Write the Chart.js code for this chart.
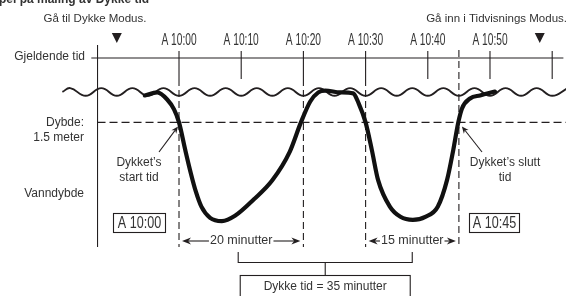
<!DOCTYPE html>
<html lang="no">
<head>
<meta charset="UTF-8">
<title>Eksempel på måling av Dykke tid</title>
<script src="https://cdnjs.cloudflare.com/ajax/libs/Chart.js/4.4.1/chart.umd.min.js"></script>
<style>
    html, body { margin: 0; padding: 0; background: #fff; }
    #wrap { width: 566px; height: 296px; position: relative; }
</style>
</head>
<body>
<div id="wrap"><canvas id="diveChart"></canvas></div>
<script>
    // time = minutes after 10:00, depth = meters below surface
    const diveTimes  = [-5.5, -3.5, -1.9, -0.8, 0, 1.0, 1.9, 2.7, 3.6, 5.0, 6.9, 9.0, 12.0, 15.0, 17.8, 19.6, 21.1, 22.4, 23.5, 25.9, 28.0, 28.9, 30.0, 31.0, 32.0, 33.9, 35.6, 37.6, 39.6, 41.6, 43.1, 44.1, 44.9, 45.5, 46.8, 48.4, 50.8];
    const diveDepths = [0.17, 0.02, 0.37, 0.86, 1.5, 2.85, 4.0, 4.9, 5.65, 6.2, 6.36, 6.1, 5.3, 4.35, 2.95, 1.5, 0.47, 0.02, -0.07, 0.02, 0.07, 0.57, 1.5, 2.85, 4.33, 5.65, 6.15, 6.3, 6.15, 5.65, 4.33, 2.85, 1.5, 0.81, 0.32, 0.17, -0.02];

    // water surface wave (crests and troughs)
    const waveTimes  = [-18.75, -17.5, -15, -12.5, -10, -7.5, -5, -2.5, 0, 2.5, 5, 7.5, 10, 12.5, 15, 17.5, 20, 22.5, 25, 27.5, 30, 32.5, 35, 37.5, 40, 42.5, 45, 47.5, 50, 52.5, 55, 57.5, 60, 62.5];
    const waveDepths = [0, -0.19, 0.19, -0.19, 0.19, -0.19, 0.19, -0.19, 0.19, -0.19, 0.19, -0.19, 0.19, -0.19, 0.19, -0.19, 0.19, -0.19, 0.19, -0.19, 0.19, -0.19, 0.19, -0.19, 0.19, -0.19, 0.19, -0.19, 0.19, -0.19, 0.19, -0.19, 0.19, -0.19];

    // current time axis
    const tickTimes  = [0, 10, 20, 30, 40, 50, 60];
    const tickLabels = ['A 10:00', 'A 10:10', 'A 10:20', 'A 10:30', 'A 10:40', 'A 10:50', ''];
    const modeTimes  = [-10, 58];   // ▼ markers: enter dive mode / enter time mode

    // dive events
    const diveStart = 0, diveEnd = 45;
    const spanStarts = [0, 30];
    const spanEnds   = [20, 45];
    const spanLabels = ['20 minutter', '15 minutter'];
    const depthLine  = 1.5;

    const FONT = '"Liberation Sans", Arial, sans-serif';
    const INK = '#231f20';
    const TXT = '#333';

    function narrowText(ctx, text, x, y, size, sx) {
        ctx.save();
        ctx.font = size + 'px ' + FONT;
        ctx.translate(x, y);
        ctx.scale(sx, 1);
        ctx.textAlign = 'center';
        ctx.textBaseline = 'middle';
        ctx.fillText(text, 0, 0);
        ctx.restore();
    }

    function arrow(ctx, x1, y1, x2, y2, head, w) {
        const a = Math.atan2(y2 - y1, x2 - x1);
        const c = Math.cos(a), s = Math.sin(a);
        ctx.beginPath();
        ctx.moveTo(x1, y1);
        ctx.lineTo(x2 - c * head * 0.7, y2 - s * head * 0.7);
        ctx.stroke();
        ctx.beginPath();
        ctx.moveTo(x2, y2);
        ctx.lineTo(x2 - head * c + w / 2 * s, y2 - head * s - w / 2 * c);
        ctx.lineTo(x2 - head * c * 0.7, y2 - head * s * 0.7);
        ctx.lineTo(x2 - head * c - w / 2 * s, y2 - head * s + w / 2 * c);
        ctx.closePath();
        ctx.fill();
    }

    function vline(ctx, x, y1, y2, dash) {
        ctx.setLineDash(dash || []);
        ctx.beginPath();
        ctx.moveTo(x, y1);
        ctx.lineTo(x, y2);
        ctx.stroke();
        ctx.setLineDash([]);
    }

    const diagram = {
        id: 'diagram',
        beforeDatasetsDraw(chart) {
            const ctx = chart.ctx;
            const X = v => chart.scales.x.getPixelForValue(v);
            const Y = v => chart.scales.y.getPixelForValue(v);
            const axisX = X(-13.1);
            ctx.save();
            ctx.strokeStyle = INK;
            ctx.lineWidth = 1.1;

            // current time line
            ctx.beginPath();
            ctx.moveTo(X(-14.1), 58);
            ctx.lineTo(X(61.8), 58);
            ctx.stroke();

            // left axis
            vline(ctx, axisX, 45, 247);

            // ticks
            tickTimes.forEach(t => vline(ctx, X(t), 51, 79));

            // dashed markers
            [diveStart, spanEnds[0], spanStarts[1]].forEach(t => vline(ctx, X(t), 79, 247, [7, 4]));
            vline(ctx, X(diveEnd), 50, 247, [7, 4]);

            // 1.5 m line
            ctx.setLineDash([8, 4]);
            ctx.beginPath();
            ctx.moveTo(axisX, Y(depthLine));
            ctx.lineTo(chart.width, Y(depthLine));
            ctx.stroke();
            ctx.setLineDash([]);
            ctx.restore();
        },
        afterDatasetsDraw(chart) {
            const ctx = chart.ctx;
            const X = v => chart.scales.x.getPixelForValue(v);
            const Y = v => chart.scales.y.getPixelForValue(v);
            ctx.save();
            ctx.fillStyle = TXT;
            ctx.strokeStyle = INK;

            // title (cut at the top)
            ctx.font = 'bold 12px ' + FONT;
            ctx.textAlign = 'left';
            ctx.textBaseline = 'alphabetic';
            ctx.fillText('pel på måling av Dykke tid', -1, 3);

            ctx.font = '11.5px ' + FONT;
            ctx.textBaseline = 'middle';
            ctx.textAlign = 'center';
            ctx.fillText('Gå til Dykke Modus.', 95, 19);
            ctx.textAlign = 'right';
            ctx.fillText('Gå inn i Tidvisnings Modus.', 567, 19);

            // mode markers
            ctx.fillStyle = INK;
            modeTimes.forEach(t => {
                const x = X(t);
                ctx.beginPath();
                ctx.moveTo(x - 5, 33);
                ctx.lineTo(x + 5, 33);
                ctx.lineTo(x, 43);
                ctx.closePath();
                ctx.fill();
            });

            // tick labels
            ctx.fillStyle = TXT;
            tickTimes.forEach((t, i) => {
                if (tickLabels[i]) narrowText(ctx, tickLabels[i], X(t), 40, 17, 0.6);
            });

            // left labels
            ctx.font = '12px ' + FONT;
            ctx.textAlign = 'right';
            ctx.textBaseline = 'middle';
            ctx.fillText('Gjeldende tid', 85, 57);
            ctx.fillText('Dybde:', 84, Y(depthLine));
            ctx.fillText('1.5 meter', 84, Y(depthLine) + 15);
            ctx.fillText('Vanndybde', 84, 194);

            // start / end annotations
            ctx.textAlign = 'center';
            ctx.fillText('Dykket\u2019s', 139, 163);
            ctx.fillText('start tid', 139, 177.5);
            ctx.fillText('Dykket\u2019s slutt', 505, 163);
            ctx.fillText('tid', 505, 177.5);
            ctx.lineWidth = 1.1;
            ctx.fillStyle = INK;
            arrow(ctx, 159, 152, X(diveStart) - 1, Y(depthLine) + 4, 7, 6);
            arrow(ctx, 482, 152, X(diveEnd) + 3, Y(depthLine) + 4, 7, 6);

            // time boxes
            ctx.fillStyle = TXT;
            ctx.lineWidth = 1.1;
            ctx.strokeRect(113.5, 213.5, 52, 19);
            narrowText(ctx, 'A 10:00', 139.5, 223.5, 17, 0.74);
            ctx.strokeRect(469.5, 213.5, 50, 19);
            narrowText(ctx, 'A 10:45', 494.5, 223.5, 17, 0.74);

            // span arrows
            ctx.font = '12.5px ' + FONT;
            ctx.textBaseline = 'middle';
            const rowY = 241;
            spanStarts.forEach((s, i) => {
                const x1 = X(s) + 3, x2 = X(spanEnds[i]) - 3;
                const mid = (x1 + x2) / 2;
                const w = ctx.measureText(spanLabels[i]).width;
                ctx.fillStyle = TXT;
                ctx.textAlign = 'center';
                ctx.fillText(spanLabels[i], mid, rowY);
                ctx.fillStyle = INK;
                arrow(ctx, mid - w / 2 - 1, rowY, x1, rowY, 9, 7);
                arrow(ctx, mid + w / 2 + 1, rowY, x2, rowY, 9, 7);
            });

            // bracket to total box
            const b1 = X((spanStarts[0] + spanEnds[0]) / 2) - 3;
            const b2 = X((spanStarts[1] + spanEnds[1]) / 2);
            const bm = (b1 + b2) / 2;
            ctx.lineWidth = 1.1;
            ctx.beginPath();
            ctx.moveTo(b1, 252); ctx.lineTo(b1, 262.5);
            ctx.lineTo(b2, 262.5); ctx.lineTo(b2, 252);
            ctx.moveTo(bm, 262.5); ctx.lineTo(bm, 275);
            ctx.stroke();
            ctx.strokeRect(bm - 85, 275.5, 170, 30);
            ctx.fillStyle = TXT;
            ctx.font = '12px ' + FONT;
            ctx.textAlign = 'center';
            const total = (spanEnds[0] - spanStarts[0]) + (spanEnds[1] - spanStarts[1]);
            ctx.fillText('Dykke tid = ' + total + ' minutter', bm, 287);
            ctx.restore();
        }
    };

    new Chart(document.getElementById('diveChart'), {
        type: 'line',
        data: {
            datasets: [{
                data: diveTimes.map((t, i) => ({ x: t, y: diveDepths[i] })),
                borderColor: '#111',
                borderWidth: 4.2,
                cubicInterpolationMode: 'monotone',
                borderCapStyle: 'round',
                borderJoinStyle: 'round',
                pointRadius: 0,
                clip: false
            }, {
                data: waveTimes.map((t, i) => ({ x: t, y: waveDepths[i] })),
                borderColor: INK,
                borderWidth: 1.9,
                tension: 0.45,
                pointRadius: 0,
                clip: false
            }]
        },
        options: {
            responsive: true,
            maintainAspectRatio: false,
            animation: false,
            events: [],
            layout: { padding: 0 },
            plugins: { legend: { display: false }, tooltip: { enabled: false } },
            scales: {
                x: { type: 'linear', display: false, min: -28.78, max: 62.22 },
                y: { type: 'linear', display: false, reverse: true, min: -4.53, max: 10.05 }
            }
        },
        plugins: [diagram]
    });
</script>
</body>
</html>
